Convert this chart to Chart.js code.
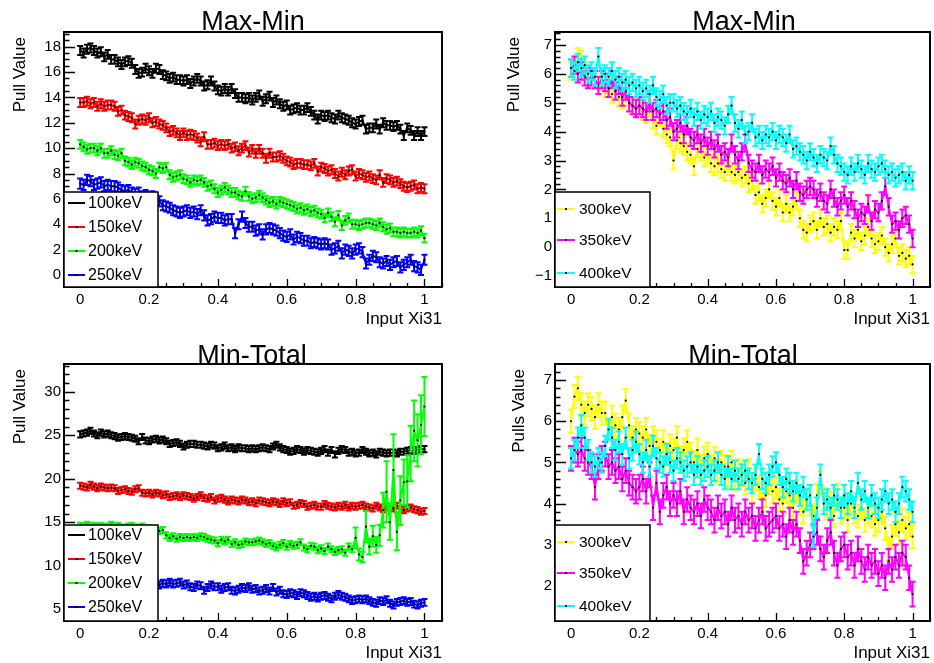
<!DOCTYPE html>
<html>
<head>
<meta charset="utf-8">
<script src="https://cdn.jsdelivr.net/npm/chart.js@4.4.1/dist/chart.umd.min.js"></script>
<style>
html, body { margin: 0; padding: 0; background: #fff; }
#wrap { position: relative; width: 934px; height: 663px; }
canvas { position: absolute; }
</style>
</head>
<body>
<div id="wrap">
  <canvas id="c1" width="467" height="331" style="left:0;top:0"></canvas>
  <canvas id="c2" width="467" height="331" style="left:467px;top:0"></canvas>
  <canvas id="c3" width="467" height="332" style="left:0;top:331px"></canvas>
  <canvas id="c4" width="467" height="332" style="left:467px;top:331px"></canvas>
</div>
<script>
// input Xi31 values (same for every graph)
var xVals = [0,0.01,0.02,0.03,0.04,0.05,0.06,0.07,0.08,0.09,
  0.1,0.11,0.12,0.13,0.14,0.15,0.16,0.17,0.18,0.19,
  0.2,0.21,0.22,0.23,0.24,0.25,0.26,0.27,0.28,0.29,
  0.3,0.31,0.32,0.33,0.34,0.35,0.36,0.37,0.38,0.39,
  0.4,0.41,0.42,0.43,0.44,0.45,0.46,0.47,0.48,0.49,
  0.5,0.51,0.52,0.53,0.54,0.55,0.56,0.57,0.58,0.59,
  0.6,0.61,0.62,0.63,0.64,0.65,0.66,0.67,0.68,0.69,
  0.7,0.71,0.72,0.73,0.74,0.75,0.76,0.77,0.78,0.79,
  0.8,0.81,0.82,0.83,0.84,0.85,0.86,0.87,0.88,0.89,
  0.9,0.91,0.92,0.93,0.94,0.95,0.96,0.97,0.98,0.99,
  1];
var xTicks = [0, 0.2, 0.4, 0.6, 0.8, 1];

var lowNames = ['100keV', '150keV', '200keV', '250keV'];
var highNames = ['300keV', '350keV', '400keV'];
var lowColors = ['#000000', '#ff0000', '#00ff00', '#0000ff'];
var highColors = ['#ffff00', '#ff00ff', '#00ffff'];

// ---- Max-Min, low energies ----
var maxMin100 = [17.7,17.5,17.8,17.9,17.7,17.5,17.6,17.2,17.4,17.0,
  17.0,16.8,16.6,16.8,16.9,16.7,16.2,15.9,16.0,16.3,
  16.1,15.9,16.3,16.2,15.8,15.7,15.5,15.6,15.4,15.4,
  15.3,15.4,15.1,15.3,15.5,15.3,14.9,15.0,15.3,14.9,
  14.6,14.5,14.7,14.5,14.7,14.3,14.0,14.0,13.9,14.0,
  13.8,14.0,14.2,13.7,13.9,14.1,13.6,13.8,13.5,13.3,
  13.4,13.0,13.1,13.2,13.0,13.0,13.2,12.9,12.6,12.3,
  12.6,12.5,12.6,12.4,12.3,12.6,12.4,12.3,12.2,12.0,
  11.9,12.1,12.2,11.5,11.6,11.6,11.9,11.5,12.0,11.8,
  11.8,11.7,11.8,11.5,11.0,11.6,11.4,11.0,11.3,11.0,
  11.3];
var maxMin150 = [13.6,13.6,13.7,13.5,13.6,13.3,13.5,13.3,13.4,13.4,
  13.3,12.9,13.0,12.6,12.5,12.4,11.9,12.2,12.3,12.2,
  12.4,12.0,12.1,11.9,11.8,11.6,11.3,11.4,11.2,11.0,
  11.2,11.0,11.1,11.0,10.8,10.5,10.9,10.3,10.3,10.4,
  10.2,10.3,10.2,10.3,10.0,10.1,9.8,10.0,10.2,9.7,
  9.9,9.6,9.9,9.6,9.2,9.6,9.3,9.3,9.4,9.2,
  9.0,8.9,8.7,8.8,8.8,8.7,8.7,8.6,8.8,8.2,
  8.5,8.4,8.2,8.3,8.0,7.8,8.1,7.9,8.2,8.3,
  7.8,8.0,7.9,7.7,7.8,7.6,7.5,7.9,7.3,7.6,
  7.5,7.3,7.4,7.2,7.0,6.9,7.0,7.1,6.8,6.9,
  6.8];
var maxMin200 = [10.3,10.1,9.9,10.0,10.0,9.8,10.0,9.6,9.6,9.8,
  9.5,9.4,9.6,9.0,8.9,8.7,8.9,8.8,8.6,8.5,
  8.3,8.2,8.0,8.5,8.4,8.5,7.9,7.7,7.8,7.9,
  7.6,7.5,7.3,7.5,7.4,7.5,7.3,7.0,7.1,6.8,
  6.5,6.7,6.9,6.7,6.5,6.5,6.3,6.2,6.6,6.2,
  6.0,6.1,6.3,6.1,5.9,5.7,5.8,5.6,5.8,5.7,
  5.6,5.5,5.4,5.2,5.3,5.1,5.2,5.0,5.1,4.9,
  4.8,4.5,4.9,4.6,4.2,4.7,3.9,4.3,4.5,4.0,
  4.0,3.9,4.0,4.1,4.1,4.0,3.9,4.1,3.8,3.6,
  3.7,3.4,3.4,3.3,3.4,3.3,3.3,3.4,3.3,3.5,
  2.9];
var maxMin250 = [7.2,7.1,7.5,7.4,7.1,7.2,7.3,7.0,7.1,7.0,
  7.0,6.9,6.7,6.6,6.7,6.5,6.4,6.5,6.2,6.3,
  6.1,6.2,5.9,5.8,5.5,5.4,5.3,5.1,5.0,4.9,
  5.0,5.1,4.9,5.0,4.8,5.1,4.7,4.3,4.4,4.6,
  4.5,4.5,4.3,4.4,4.4,3.3,4.0,4.6,4.1,3.8,
  3.8,3.5,3.6,3.2,3.6,3.7,3.6,3.5,3.3,3.1,
  3.0,3.2,2.8,3.0,2.9,2.7,2.7,2.5,2.6,2.5,
  2.4,2.5,2.4,2.0,2.1,2.3,1.7,2.0,1.9,1.7,
  2.0,2.1,1.8,0.9,1.2,1.5,1.4,1.0,0.9,1.1,
  0.8,1.0,1.1,0.6,0.8,1.0,1.2,0.7,0.6,0.4,
  1.2];

// ---- Max-Min, high energies ----
var maxMin300 = [6.1,6.3,6.6,6.5,6.1,5.8,5.9,5.8,5.6,5.7,
  5.5,5.6,5.3,5.4,5.2,5.1,5.2,5.0,4.9,4.8,
  4.9,4.7,4.6,4.8,4.4,4.2,4.5,4.1,3.9,3.8,
  3.0,3.7,3.6,3.5,3.3,3.2,2.8,3.4,3.3,3.1,
  3.2,2.9,2.8,2.9,2.7,2.6,2.8,2.6,2.5,2.6,
  2.4,2.5,2.2,2.3,1.8,1.9,1.5,1.7,2.0,1.6,
  1.4,1.7,1.2,1.5,1.2,1.4,1.6,1.0,0.6,0.5,
  0.8,0.9,0.6,1.0,0.7,0.8,0.5,0.7,0.6,0.9,
  -0.1,-0.1,0.5,0.3,0.6,0.2,0.4,0.7,0.3,0.1,
  0.2,0.4,0.0,-0.2,0.1,0.3,-0.3,-0.2,-0.4,-0.3,
  -0.6];
var maxMin350 = [6.2,6.3,6.0,6.1,5.9,5.8,5.9,5.8,5.6,5.8,
  5.7,5.5,5.8,5.4,5.6,5.2,5.4,5.0,4.9,4.8,
  4.9,4.8,4.7,5.0,4.7,4.8,4.6,4.7,4.4,4.5,
  4.0,4.1,4.3,3.9,4.2,3.8,3.7,3.9,3.6,3.8,
  3.5,3.7,3.4,3.6,3.2,3.3,3.1,3.6,3.2,3.0,
  3.3,3.6,2.9,2.7,2.6,2.9,2.5,2.7,2.6,2.8,
  2.4,2.6,2.3,2.2,2.4,2.0,2.3,1.9,1.8,2.0,
  2.1,2.0,1.7,1.9,1.6,1.5,2.0,1.7,1.4,1.6,
  1.8,1.4,1.6,1.3,1.0,1.2,1.1,1.5,0.9,1.3,
  1.2,1.6,2.1,1.4,0.8,0.9,0.6,1.0,1.1,0.8,
  0.3];
var maxMin400 = [6.2,6.1,6.4,6.2,6.3,6.0,6.1,5.9,6.6,5.9,
  6.0,5.9,6.1,5.8,5.9,5.7,5.8,5.6,5.7,5.5,
  5.6,5.4,5.5,5.3,5.6,5.2,5.1,5.3,4.9,5.0,
  5.0,4.8,4.9,4.7,4.6,4.8,4.5,4.7,4.4,4.6,
  4.5,4.7,4.3,4.5,4.4,4.2,4.6,4.9,4.3,4.1,
  4.4,3.9,4.0,4.3,3.8,3.9,3.7,3.9,3.8,4.0,
  3.7,3.9,3.8,3.6,3.9,3.4,3.5,3.3,3.2,3.0,
  3.3,3.1,2.9,3.2,3.1,3.0,3.5,3.2,2.9,2.8,
  2.6,2.5,2.8,2.6,2.9,2.7,2.5,2.9,2.7,2.6,
  2.8,2.9,2.7,2.5,2.6,2.4,2.5,2.6,2.3,2.5,
  2.3];

// ---- Min-Total, low energies ----
var minTot100 = [25.1,25.2,25.3,25.5,25.2,25.0,25.3,25.1,25.2,25.0,
  24.9,24.7,24.8,24.9,24.8,24.7,24.6,24.3,24.8,24.4,
  24.3,24.5,24.6,24.4,24.5,24.3,24.0,24.1,24.2,24.0,
  23.7,23.9,24.0,24.0,23.9,23.9,23.8,23.7,23.9,23.8,
  23.5,23.6,23.8,23.5,23.6,23.4,23.6,23.5,23.5,23.4,
  23.5,23.4,23.5,23.6,23.5,23.4,23.7,23.9,23.6,23.4,
  23.3,23.1,23.2,23.4,23.3,23.1,23.3,23.2,23.1,23.0,
  23.2,23.4,23.0,23.3,22.8,23.2,23.4,23.3,23.0,23.1,
  22.9,23.0,23.3,23.1,22.9,23.0,22.8,23.1,23.0,22.9,
  23.0,23.0,22.9,23.1,23.1,23.2,23.3,23.2,23.3,23.4,
  23.4];
var minTot150 = [19.2,19.1,19.0,19.3,19.1,18.9,19.1,19.0,18.9,19.0,
  18.9,18.6,18.7,18.8,18.6,18.5,18.8,18.9,18.4,18.3,
  18.4,18.2,18.4,18.3,18.1,18.2,17.9,18.0,18.1,17.9,
  18.1,18.0,17.9,17.7,17.9,18.1,17.8,17.7,17.9,17.5,
  17.7,17.8,17.6,17.4,17.6,17.5,17.4,17.6,17.5,17.3,
  17.4,17.2,17.5,17.4,17.3,17.2,17.4,17.3,17.1,17.4,
  17.2,17.3,16.9,17.0,17.2,17.1,16.8,16.9,17.0,16.8,
  16.8,17.1,16.9,16.8,16.7,16.9,16.8,17.0,16.7,16.9,
  16.8,16.9,17.0,16.8,16.7,16.6,16.9,16.7,16.5,16.8,
  16.7,16.6,16.9,16.5,16.4,16.6,16.7,16.5,16.4,16.2,
  16.3];
var minTot200 = [14.6,14.5,14.7,14.5,14.6,14.5,14.6,14.4,14.5,14.7,
  14.5,14.6,14.4,14.3,14.5,14.6,14.4,14.3,14.5,14.2,
  14.3,14.1,14.2,14.0,14.1,13.5,13.2,13.4,13.1,13.3,
  13.2,13.3,13.2,13.3,13.2,13.4,13.3,13.1,13.0,12.9,
  12.6,13.0,12.8,13.0,12.5,12.7,12.4,12.5,12.8,12.7,
  12.7,12.8,12.9,12.7,12.5,12.6,12.3,12.1,12.4,12.6,
  12.2,12.5,12.3,12.4,12.7,12.1,11.9,12.3,12.2,11.8,
  12.0,11.7,12.2,11.9,11.6,11.8,11.9,11.5,12.2,11.9,
  13.2,11.3,11.0,14.5,12.2,13.4,12.4,13.5,16.4,18.5,
  15.0,21.0,13.9,17.5,19.6,19.7,22.9,25.5,24.4,26.2,
  28.3];
var minTot250 = [8.6,8.5,8.7,8.4,8.6,8.5,8.3,8.5,8.4,8.6,
  8.3,8.4,8.2,8.4,8.3,8.1,8.3,8.2,8.0,8.2,
  8.1,7.9,8.0,7.8,8.0,7.9,8.1,7.9,8.0,8.1,
  7.8,7.9,7.6,7.5,7.8,7.7,7.2,7.5,7.8,7.6,
  7.6,7.3,7.5,7.6,7.2,7.1,7.3,7.5,7.4,7.6,
  7.3,7.4,7.1,7.2,7.4,7.1,7.5,7.0,7.2,6.8,
  6.7,6.9,6.8,6.6,6.9,6.8,6.6,6.4,6.5,6.3,
  6.5,6.6,6.4,6.2,6.5,6.7,6.5,6.4,6.2,6.0,
  6.1,6.2,6.1,6.2,6.0,5.8,5.7,6.0,5.9,6.1,
  5.7,5.5,5.8,5.9,6.0,5.8,5.9,5.6,5.5,5.7,
  5.8];

// ---- Min-Total, high energies ----
var minTot300 = [6.0,6.6,6.8,6.4,6.2,6.4,6.3,6.1,6.4,6.2,
  6.2,5.8,6.1,5.9,5.8,6.1,6.5,5.9,5.6,5.8,
  5.7,5.6,5.8,5.4,5.6,5.5,5.3,5.5,5.2,5.4,
  5.3,5.6,5.1,5.3,5.5,5.2,5.0,5.3,4.9,5.1,
  5.2,4.9,5.1,4.8,5.0,4.9,4.7,5.0,4.6,4.8,
  4.7,4.5,4.8,4.3,4.6,4.4,4.1,4.2,4.5,4.3,
  4.4,4.1,4.0,4.3,4.2,3.9,4.3,4.0,3.8,4.1,
  4.0,3.7,4.2,4.5,4.1,3.9,4.0,3.7,4.2,3.8,
  3.9,3.6,4.0,3.8,3.7,3.9,3.6,3.8,3.7,3.5,
  3.6,3.8,3.4,2.9,3.2,3.5,3.3,3.6,3.4,3.5,
  3.2];
var minTot350 = [5.1,5.3,5.2,5.3,5.1,5.0,4.9,4.4,4.9,5.1,
  5.2,4.9,5.0,4.8,4.9,4.6,4.8,4.5,4.4,4.3,
  4.4,4.6,4.3,4.7,3.9,4.5,3.8,4.2,4.4,4.0,
  4.2,4.0,4.3,3.8,4.1,3.9,3.8,4.0,3.7,4.1,
  3.9,3.8,3.6,3.9,3.7,3.8,3.5,3.9,3.6,3.7,
  3.5,3.8,3.6,3.7,3.4,3.6,3.8,3.4,3.5,3.6,
  3.7,3.4,3.5,3.2,3.6,3.3,3.5,3.1,2.6,2.8,
  3.0,3.2,3.3,2.9,2.7,3.1,3.3,2.8,2.5,2.9,
  3.0,2.7,2.8,2.5,2.9,2.6,2.4,2.7,2.5,2.6,
  2.3,2.5,2.2,2.6,2.4,2.7,2.5,2.8,2.7,2.2,
  1.8];
var minTot400 = [5.1,5.3,5.6,5.9,5.6,5.3,5.0,4.9,5.1,5.0,
  5.4,5.8,5.6,5.3,5.5,5.2,5.6,5.1,5.3,5.5,
  5.2,5.0,5.3,4.9,5.4,5.1,5.0,4.9,5.2,5.0,
  4.8,5.1,5.0,4.8,4.9,5.0,4.7,4.9,4.7,4.8,
  4.9,4.7,4.8,5.0,4.7,4.6,4.9,4.6,4.8,4.6,
  4.7,4.8,4.6,4.5,4.7,5.2,4.6,4.5,4.7,4.9,
  5.0,4.7,4.4,4.6,4.5,4.3,4.5,4.2,4.4,4.1,
  4.2,3.2,3.9,4.7,4.0,4.1,3.9,4.2,4.1,3.9,
  4.2,4.0,4.3,3.9,4.5,4.1,4.3,3.9,4.2,4.0,
  3.9,4.1,4.3,4.0,4.1,3.8,4.0,4.4,4.3,4.1,
  3.8];

// error bar half-lengths (one value per graph)
var maxMinLowErr = [0.35, 0.35, 0.35, 0.4];
var maxMinHighErr = [0.3, 0.3, 0.3];
var minTotLowErr = [0.35, 0.35, 0.35, 0.4];
var minTotHighErr = [0.28, 0.3, 0.25];
// the 200keV Min-Total graph blows up above Xi31 = 0.8 (points 80..100)
var minTot200TailErr = [1.2,0.7,0.6,1.8,0.9,1.2,0.9,1.2,2.0,3.5,
  2.0,4.1,2.1,2.8,2.6,3.0,3.2,3.5,3.0,3.4,3.4];

var yTicksMaxMinLow = [0, 2, 4, 6, 8, 10, 12, 14, 16, 18];
var yTicksMaxMinHigh = [-1, 0, 1, 2, 3, 4, 5, 6, 7];
var yTicksMinTotLow = [5, 10, 15, 20, 25, 30];
var yTicksMinTotHigh = [2, 3, 4, 5, 6, 7];

var FONT = '"Liberation Sans", Arial, Helvetica, sans-serif';

function errAt(e, j) {
  return typeof e === 'number' ? e : e[j];
}

function rootPlugin(p) {
  return {
    id: 'rootStyle',
    beforeDatasetDraw: function(chart, args) {
      var ds = chart.data.datasets[args.index];
      var xs = chart.scales.x, ys = chart.scales.y, a = chart.chartArea, ctx = chart.ctx;
      ctx.save();
      ctx.beginPath();
      ctx.rect(a.left, a.top, a.right - a.left, a.bottom - a.top);
      ctx.clip();
      ctx.strokeStyle = ds.borderColor;
      ctx.lineWidth = 2;
      ctx.beginPath();
      ds.data.forEach(function(pt, j) {
        var e = errAt(ds.errors, j);
        var px = xs.getPixelForValue(pt.x);
        var y1 = ys.getPixelForValue(pt.y - e), y2 = ys.getPixelForValue(pt.y + e);
        ctx.moveTo(px, y1); ctx.lineTo(px, y2);
        ctx.moveTo(px - 3, y1); ctx.lineTo(px + 3, y1);
        ctx.moveTo(px - 3, y2); ctx.lineTo(px + 3, y2);
      });
      ctx.stroke();
      ctx.restore();
    },
    afterDraw: function(chart) {
      var ctx = chart.ctx, a = chart.chartArea, xs = chart.scales.x, ys = chart.scales.y;
      var k, v, px, py;
      ctx.save();
      // title
      ctx.fillStyle = '#000';
      ctx.font = '27px ' + FONT;
      ctx.textAlign = 'center';
      ctx.textBaseline = 'alphabetic';
      ctx.fillText(p.title, p.titleX, p.titleY);
      // axis titles
      ctx.font = '17px ' + FONT;
      ctx.textAlign = 'right';
      ctx.fillText('Input Xi31', a.right, p.xTitleY);
      ctx.save();
      ctx.translate(p.yTitleX, a.top + 5);
      ctx.rotate(-Math.PI / 2);
      ctx.textBaseline = 'middle';
      ctx.fillText(p.yTitle, 0, 0);
      ctx.restore();
      // inner tick marks
      ctx.strokeStyle = '#000';
      ctx.lineWidth = 1.3;
      ctx.beginPath();
      for (k = -1; k <= 21; k++) {
        v = k * 0.05;
        if (v < xs.min || v > xs.max) continue;
        px = Math.round(xs.getPixelForValue(v)) + 0.5;
        ctx.moveTo(px, a.bottom);
        ctx.lineTo(px, a.bottom - (k % 4 === 0 ? 8 : 4));
      }
      var kMin = Math.ceil(ys.min / p.yMinor - 1e-6), kMax = Math.floor(ys.max / p.yMinor + 1e-6);
      for (k = kMin; k <= kMax; k++) {
        v = k * p.yMinor;
        var r = v / p.yMajor;
        var major = Math.abs(r - Math.round(r)) < 1e-6;
        py = Math.round(ys.getPixelForValue(v)) + 0.5;
        ctx.moveTo(a.left, py);
        ctx.lineTo(a.left + (major ? 11 : 5.5), py);
      }
      ctx.stroke();
      // frame
      ctx.lineWidth = 2;
      ctx.strokeRect(a.left, a.top, a.right - a.left, a.bottom - a.top);
      // legend
      var L = p.legend;
      ctx.fillStyle = '#fff';
      ctx.fillRect(L.x, L.y, L.w, L.h);
      ctx.lineWidth = 1.5;
      ctx.strokeStyle = '#000';
      ctx.strokeRect(L.x, L.y, L.w, L.h);
      ctx.font = L.size + 'px ' + FONT;
      ctx.textAlign = 'left';
      ctx.textBaseline = 'middle';
      p.names.forEach(function(name, i) {
        var ey = L.rows[i];
        ctx.strokeStyle = p.colors[i];
        ctx.lineWidth = 2;
        ctx.beginPath();
        ctx.moveTo(L.lx1, ey); ctx.lineTo(L.lx2, ey);
        ctx.stroke();
        ctx.fillStyle = '#000';
        ctx.fillRect((L.lx1 + L.lx2) / 2 - 1, ey - 1, 2, 2);
        ctx.fillText(name, L.tx, ey + 1);
      });
      ctx.restore();
    }
  };
}

function makePanel(id, p) {
  var canvas = document.getElementById(id);
  var W = canvas.width, H = canvas.height;
  var n = p.series.length;
  var datasets = p.series.map(function(vals, i) {
    return {
      label: p.names[i],
      data: xVals.map(function(x, j) { return { x: x, y: vals[j] }; }),
      errors: p.errors[i],
      borderColor: p.colors[i],
      backgroundColor: p.colors[i],
      borderWidth: 2,
      pointRadius: 1.1,
      pointBackgroundColor: '#000',
      pointBorderWidth: 0,
      tension: 0,
      fill: false,
      order: n - i
    };
  });
  var tickFont = { family: FONT, size: 15 };
  new Chart(canvas, {
    type: 'line',
    data: { datasets: datasets },
    options: {
      responsive: false,
      animation: false,
      events: [],
      layout: { padding: { left: 0, top: p.area.top, right: W - p.area.right, bottom: 0 } },
      plugins: { legend: { display: false }, tooltip: { enabled: false }, title: { display: false } },
      scales: {
        x: {
          type: 'linear',
          min: -0.047,
          max: 1.051,
          grid: { display: false, drawTicks: false, tickLength: 0 },
          border: { display: false },
          afterFit: function(s) { s.height = H - p.area.bottom; },
          afterBuildTicks: function(s) { s.ticks = xTicks.map(function(v) { return { value: v }; }); },
          ticks: { font: tickFont, color: '#000', padding: 4, maxRotation: 0, autoSkip: false,
            callback: function(v) { return String(Math.round(v * 10) / 10); } }
        },
        y: {
          type: 'linear',
          min: p.yMin,
          max: p.yMax,
          grid: { display: false, drawTicks: false, tickLength: 0 },
          border: { display: false },
          afterFit: function(s) { s.width = p.area.left; },
          afterBuildTicks: function(s) { s.ticks = p.yTicks.map(function(v) { return { value: v }; }); },
          ticks: { font: tickFont, color: '#000', padding: 3, autoSkip: false,
            callback: function(v) { return v < 0 ? '\u2212' + Math.abs(v) : String(v); } }
        }
      }
    },
    plugins: [rootPlugin(p)]
  });
}

makePanel('c1', {
  title: 'Max-Min', titleX: 253, titleY: 30, yTitle: 'Pull Value', yTitleX: 20, xTitleY: 324,
  area: { left: 64, right: 442, top: 32, bottom: 287 },
  yMin: -0.95, yMax: 19.16, yTicks: yTicksMaxMinLow, yMajor: 2, yMinor: 0.5,
  series: [maxMin100, maxMin150, maxMin200, maxMin250],
  errors: maxMinLowErr, names: lowNames, colors: lowColors,
  legend: { x: 64, y: 192, w: 94, h: 95, rows: [203, 227, 251, 275], lx1: 68, lx2: 85, tx: 88, size: 16 }
});

makePanel('c2', {
  title: 'Max-Min', titleX: 277, titleY: 30, yTitle: 'Pull Value', yTitleX: 47, xTitleY: 324,
  area: { left: 88, right: 466, top: 32, bottom: 287 },
  yMin: -1.38, yMax: 7.45, yTicks: yTicksMaxMinHigh, yMajor: 1, yMinor: 0.2,
  series: [maxMin300, maxMin350, maxMin400],
  errors: maxMinHighErr, names: highNames, colors: highColors,
  legend: { x: 88, y: 192, w: 95, h: 95, rows: [209, 240, 273], lx1: 90, lx2: 108, tx: 112, size: 15.5 }
});

makePanel('c3', {
  title: 'Min-Total', titleX: 252, titleY: 33, yTitle: 'Pull Value', yTitleX: 20, xTitleY: 327,
  area: { left: 64, right: 442, top: 33, bottom: 290 },
  yMin: 3.66, yMax: 33.18, yTicks: yTicksMinTotLow, yMajor: 5, yMinor: 1,
  series: [minTot100, minTot150, minTot200, minTot250],
  errors: [minTotLowErr[0], minTotLowErr[1],
    xVals.map(function(x, j) { return j >= 80 ? minTot200TailErr[j - 80] : minTotLowErr[2]; }),
    minTotLowErr[3]],
  names: lowNames, colors: lowColors,
  legend: { x: 64, y: 194, w: 94, h: 96, rows: [204, 228, 252, 276], lx1: 68, lx2: 85, tx: 88, size: 16 }
});

makePanel('c4', {
  title: 'Min-Total', titleX: 276, titleY: 33, yTitle: 'Pulls Value', yTitleX: 52, xTitleY: 327,
  area: { left: 88, right: 466, top: 33, bottom: 290 },
  yMin: 1.15, yMax: 7.39, yTicks: yTicksMinTotHigh, yMajor: 1, yMinor: 0.2,
  series: [minTot300, minTot350, minTot400],
  errors: minTotHighErr, names: highNames, colors: highColors,
  legend: { x: 88, y: 194, w: 95, h: 96, rows: [211, 242, 275], lx1: 90, lx2: 108, tx: 112, size: 15.5 }
});
</script>
</body>
</html>
